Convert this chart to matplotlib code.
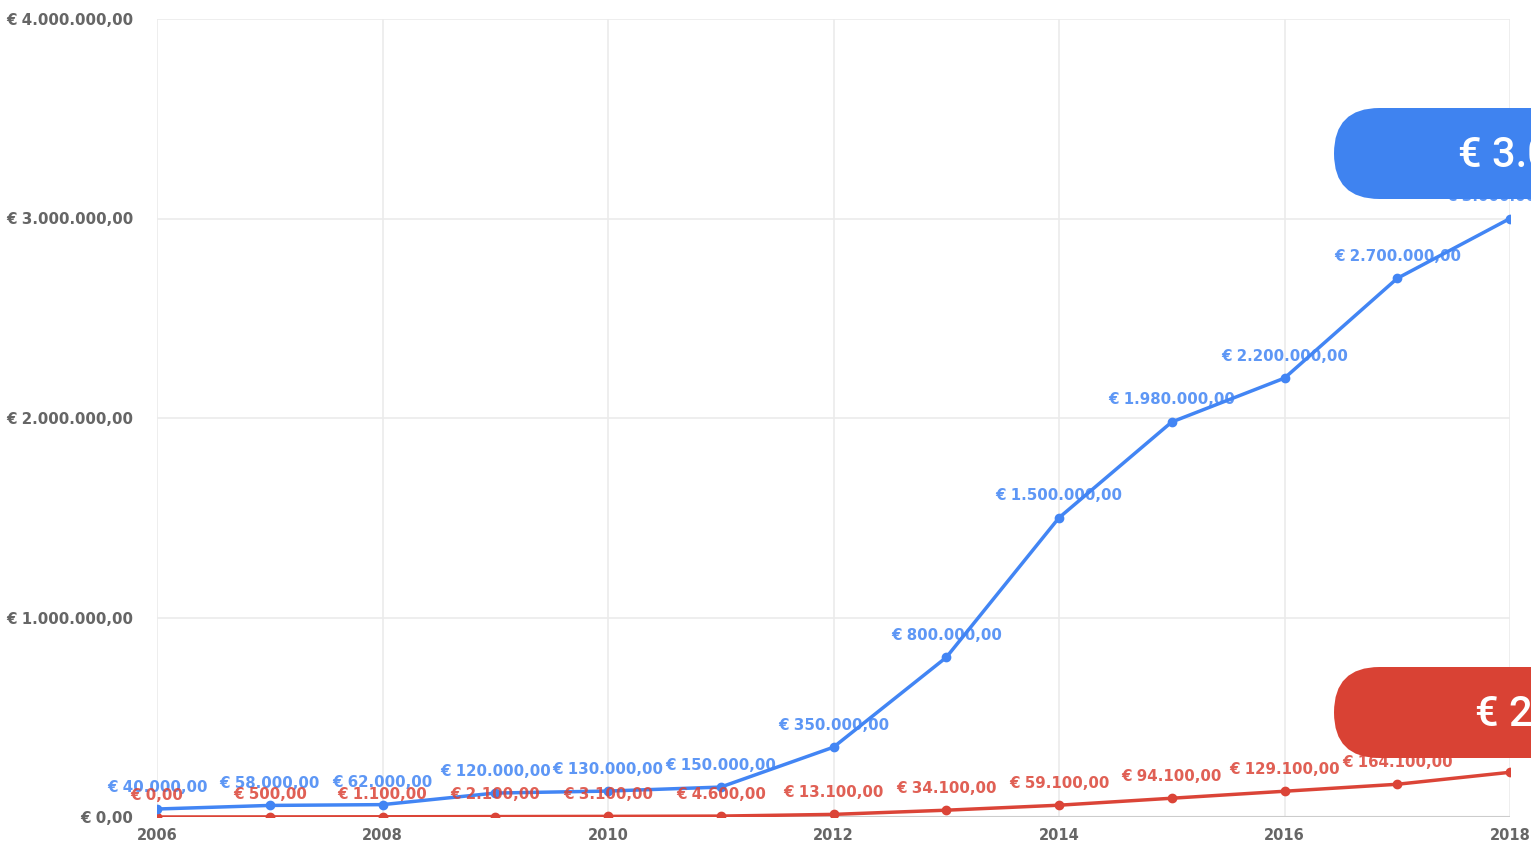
import matplotlib
matplotlib.use("Agg")
import matplotlib.pyplot as plt
from matplotlib.patches import FancyBboxPatch

years = [2006, 2007, 2008, 2009, 2010, 2011, 2012, 2013, 2014, 2015, 2016, 2017, 2018]
blue_vals = [40000, 58000, 62000, 120000, 130000, 150000, 350000, 800000,
             1500000, 1980000, 2200000, 2700000, 3000000]
red_vals = [0, 500, 1100, 2100, 3100, 4600, 13100, 34100, 59100, 94100,
            129100, 164100, 224100]
y_ticks = [0, 1000000, 2000000, 3000000, 4000000]
x_ticks = [2006, 2008, 2010, 2012, 2014, 2016, 2018]
blue_badge = "€ 3.000.000,00"
red_badge = "€ 224.100,00"

BLUE = "#4285f4"
RED = "#db4437"


def euro(v):
    s = f"{v:,.2f}"
    s = s.replace(",", "X").replace(".", ",").replace("X", ".")
    return "€ " + s


W, H = 1531, 843
fig = plt.figure(figsize=(W / 100, H / 100), dpi=100)
ax = fig.add_axes([157 / W, 1 - 817 / H, (1510 - 157) / W, (817 - 19) / H])

ax.plot(years, red_vals, color=RED, lw=2.5, marker="o", ms=6, zorder=3)
ax.plot(years, blue_vals, color=BLUE, lw=2.5, marker="o", ms=6, zorder=4)

for x, v in zip(years, blue_vals):
    ax.annotate(euro(v), (x, v), xytext=(0, 22), textcoords="offset pixels",
                ha="center", va="center", color=BLUE, fontsize=10.8,
                fontweight="bold", alpha=0.85, zorder=5)
for x, v in zip(years, red_vals):
    ax.annotate(euro(v), (x, v), xytext=(0, 22), textcoords="offset pixels",
                ha="center", va="center", color=RED, fontsize=10.8,
                fontweight="bold", alpha=0.85, zorder=5)

ax.set_xlim(2006, 2018)
ax.set_ylim(0, 4000000)
ax.set_xticks(x_ticks)
ax.set_xticklabels([str(t) for t in x_ticks])
ax.set_yticks(y_ticks)
ax.set_yticklabels([euro(t) for t in y_ticks])
ax.tick_params(length=0, colors="#666666", labelsize=10.5)
ax.tick_params(axis="y", pad=17, labelsize=10.8)
ax.tick_params(axis="x", pad=8)
for lab in ax.get_xticklabels() + ax.get_yticklabels():
    lab.set_fontweight("bold")
ax.grid(True, color="#ebebeb", lw=1.2)
ax.set_axisbelow(True)
for s in ax.spines.values():
    s.set_visible(False)
ax.axhline(0, color="#cccccc", lw=1.5, zorder=2)

# overlay in pixel units for the badges
ov = fig.add_axes([0, 0, 1, 1], zorder=10)
ov.set_xlim(0, W)
ov.set_ylim(H, 0)
ov.axis("off")
ov.patch.set_alpha(0)
for y0, col, txt, xt in [(108, "#3f83f0", blue_badge, 1458),
                         (667, "#d94234", red_badge, 1475)]:
    ov.add_patch(FancyBboxPatch((1334, y0), 400, 91,
                                boxstyle="round,pad=0,rounding_size=45.5",
                                facecolor=col, edgecolor="none"))
    ov.text(xt, y0 + 47, txt, color="white", fontsize=30, va="center",
            ha="left", family=["Roboto", "DejaVu Sans"],
            fontweight="medium", clip_on=True)

fig.savefig("out.png", dpi=100, facecolor="white")
